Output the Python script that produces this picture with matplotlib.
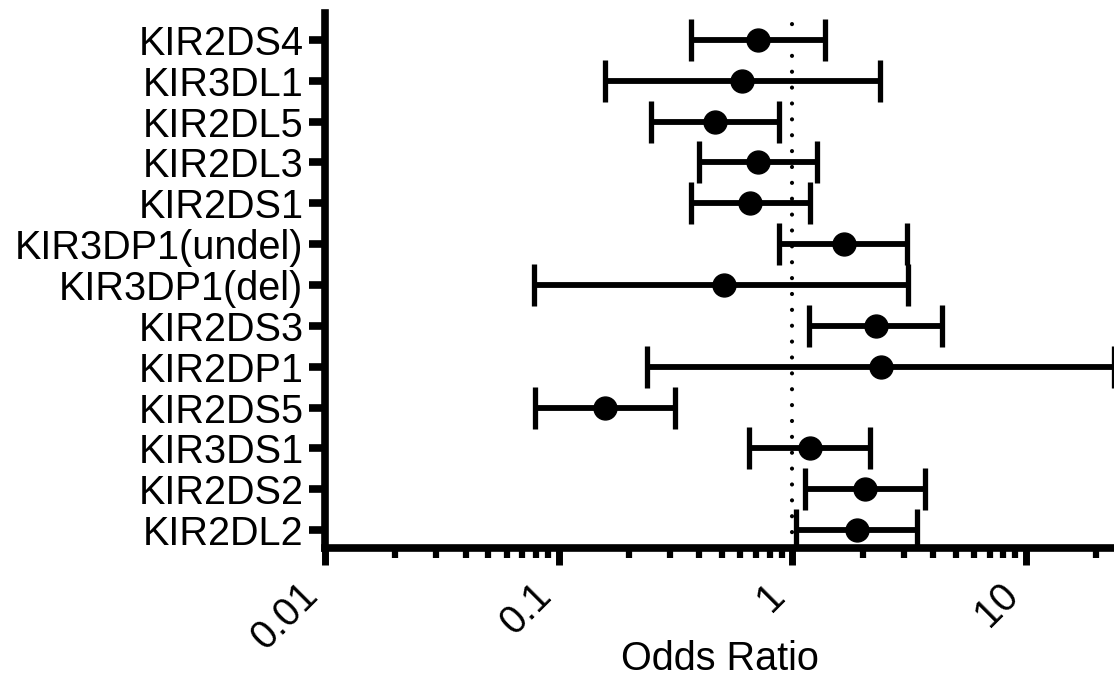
import matplotlib
matplotlib.use("Agg")
import matplotlib.pyplot as plt
import numpy as np

# --- data ---
genes = ["KIR2DS4", "KIR3DL1", "KIR2DL5", "KIR2DL3", "KIR2DS1",
         "KIR3DP1(undel)", "KIR3DP1(del)", "KIR2DS3", "KIR2DP1",
         "KIR2DS5", "KIR3DS1", "KIR2DS2", "KIR2DL2"]
odds_ratio = [0.715, 0.61, 0.465, 0.715, 0.66, 1.67, 0.51, 2.28, 2.40,
              0.158, 1.19, 2.05, 1.90]
ci_low = [0.367, 0.158, 0.249, 0.40, 0.367, 0.88, 0.0787, 1.18, 0.238,
          0.079, 0.653, 1.13, 1.04]
ci_high = [1.38, 2.37, 0.88, 1.28, 1.19, 3.11, 3.13, 4.38, 23.8,
           0.316, 2.15, 3.71, 3.41]
xticks = [0.01, 0.1, 1, 10]
xtick_labels = ["0.01", "0.1", "1", "10"]

plt.rcParams["font.family"] = ["Liberation Sans", "DejaVu Sans"]

fig = plt.figure(figsize=(11.14, 6.78), dpi=100)
ax = fig.add_axes([0.2917, 0.1917, 0.7083, 0.7893])

ypos = np.arange(len(genes))[::-1]
orr = np.array(odds_ratio)
err = [orr - np.array(ci_low), np.array(ci_high) - orr]

# reference line at OR = 1
ax.axvline(1, color="black", linewidth=3, linestyle=(0, (0.01, 3.8)),
           dash_capstyle="round", zorder=1)

ax.errorbar(orr, ypos, xerr=err, fmt="o", color="black", markersize=16.5,
            elinewidth=4.2, capsize=15, capthick=3.8, zorder=3)

ax.set_xscale("log")
ax.set_xlim(0.01, 23.8)
ax.set_ylim(-0.44, 12.66)

ax.set_yticks(ypos)
ax.set_yticklabels(genes, fontsize=28.5)
ax.set_xticks(xticks)
ax.set_xticklabels(xtick_labels, fontsize=28.5, rotation=45, ha="right")
ax.set_xlabel("Odds Ratio", fontsize=28.5)
ax.xaxis.set_label_coords(0.5, -0.171)

ax.spines["top"].set_visible(False)
ax.spines["right"].set_visible(False)
for s in ["left", "bottom"]:
    ax.spines[s].set_linewidth(5.5)

ax.tick_params(axis="y", which="major", length=11.5, width=5.5, pad=4)
ax.tick_params(axis="x", which="major", length=12, width=5, pad=8)
ax.tick_params(axis="x", which="minor", length=7, width=4.5)

fig.savefig("out.png", dpi=100)
